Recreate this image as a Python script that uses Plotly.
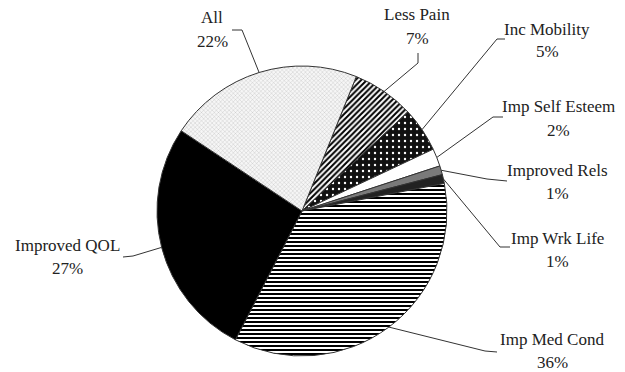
import math
import plotly.graph_objects as go

# ---- data ----
categories = ["Less Pain", "Inc Mobility", "Imp Self Esteem", "Improved Rels",
              "Imp Wrk Life", "Imp Med Cond", "Improved QOL", "All"]
values = [7, 5, 2, 1, 1, 36, 27, 22]
pct_labels = [f"{v}%" for v in values]

# ---- style ----
W, H = 625, 372
CX, CY, R = 302, 211, 145          # pie centre / radius in pixels
ROTATION = 22

colors = ["white", "#111111", "white", "#7a7a7a", "#222222", "white", "black", "#f2f2f2"]
pat_shape = ["/", ".", "", "", "", "-", "", "x"]
pat_fg = ["black", "white", "black", "black", "black", "black", "black", "#9a9a9a"]
pat_bg = ["white", "#111111", "white", "#7a7a7a", "#222222", "white", "black", "#f6f6f6"]
pat_size = [4, 6, 4, 4, 4, 4, 4, 3]
pat_sol = [0.5, 0.12, 0.3, 0.3, 0.3, 0.5, 0.3, 0.15]

# label layout (pixels): first-line centre, elbow point, line end
label_pos = {
    "All":             ((212, 18), (242, 30), (232, 30)),
    "Less Pain":       ((417, 15), (418, 63), (418, 53)),
    "Inc Mobility":    ((547, 29), (497, 39), (505, 39)),
    "Imp Self Esteem": ((558, 107), (493, 117), (503, 117)),
    "Improved Rels":   ((557, 170), (487, 179), (507, 181)),
    "Imp Wrk Life":    ((557, 238), (500, 247), (510, 247)),
    "Improved QOL":    ((67, 245), (133, 256), (123, 257)),
    "Imp Med Cond":    ((552, 339), (485, 351), (497, 352)),
}
LINE_GAP = 23
FONT = dict(family="'Liberation Serif', 'DejaVu Serif', 'Times New Roman', serif",
            size=17, color="#222222")


def px(x):
    return x / W


def py(y):
    return 1 - y / H


fig = go.Figure(go.Pie(
    labels=categories,
    values=values,
    sort=False,
    direction="clockwise",
    rotation=ROTATION,
    textinfo="none",
    hoverinfo="label+value",
    marker=dict(
        colors=colors,
        line=dict(color="#333333", width=1),
        pattern=dict(shape=pat_shape, fgcolor=pat_fg, bgcolor=pat_bg,
                     size=pat_size, solidity=pat_sol),
    ),
    domain=dict(x=[px(CX - R), px(CX + R)], y=[py(CY + R), py(CY - R)]),
    showlegend=False,
))

# leader lines and labels, anchored at slice mid-angles
total = sum(values)
cum = 0
annotations = []
shapes = []
for cat, v, pl in zip(categories, values, pct_labels):
    mid = ROTATION + (cum + v / 2) / total * 360
    cum += v
    a = math.radians(mid)
    ax, ay = CX + R * math.sin(a), CY - R * math.cos(a)
    (tx, ty), (ex, ey), (lx, ly) = label_pos[cat]
    shapes.append(dict(
        type="path", xref="paper", yref="paper",
        path=f"M {px(ax)},{py(ay)} L {px(ex)},{py(ey)} L {px(lx)},{py(ly)}",
        line=dict(color="#333333", width=1),
    ))
    annotations.append(dict(x=px(tx), y=py(ty), xref="paper", yref="paper",
                            text=cat, showarrow=False, font=FONT,
                            xanchor="center", yanchor="middle"))
    annotations.append(dict(x=px(tx), y=py(ty + LINE_GAP), xref="paper", yref="paper",
                            text=pl, showarrow=False, font=FONT,
                            xanchor="center", yanchor="middle"))

fig.update_layout(
    width=W, height=H,
    margin=dict(l=0, r=0, t=0, b=0),
    paper_bgcolor="white",
    plot_bgcolor="white",
    font=FONT,
    shapes=shapes,
    annotations=annotations,
)

fig.write_html("out.html")
